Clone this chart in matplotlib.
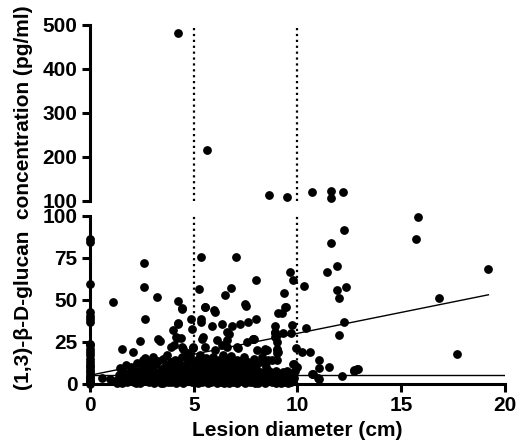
import matplotlib.pyplot as plt
import numpy as np

plt.rcParams['font.family'] = ['Liberation Sans', 'DejaVu Sans']
plt.rcParams['font.weight'] = 'bold'
plt.rcParams['font.size'] = 15

# points on the y axis (diameter 0)
x_zero = [0] * 25
y_zero = [86.2, 84.2, 59.6, 42.8, 40.5, 38.5, 36.9, 24, 23, 21, 19, 17, 15, 13,
          11.5, 10, 8.5, 7, 5.5, 4, 3, 2, 1, 0.5, 0]

# scattered points above the dense cluster
x_mid = [2.62, 2.6, 1.12, 3.23, 2.63, 4.22, 4.43, 5.33, 5.25, 5.56, 5.96, 6.02,
         7.02, 6.81, 6.5, 7.52, 7.47, 8.0, 4.22, 4.0, 4.9, 5.35, 4.87, 5.36, 5.9,
         6.35, 6.83, 7.23, 7.6, 8.0, 6.7, 6.62, 3.28, 3.39, 2.4, 1.54, 2.05, 3.9,
         4.03, 4.39, 4.14, 4.98, 5.43, 5.53, 6.14, 7.07, 7.55, 7.9, 4.42, 5.54,
         4.26, 6.59, 4.42, 4.18, 5.38, 7.84, 4.98, 6.35, 6.59, 4.5, 4.74, 6.02,
         8.03, 8.43, 7.15, 3.73, 2.65, 3.05, 2.0]
y_mid = [72, 57.8, 49, 51.9, 38.7, 49.3, 44.8, 75.7, 56.6, 46, 44, 43,
         75.7, 56.8, 53, 46.6, 47.3, 62, 36, 32.3, 32.7, 37, 38.5, 38.6, 34.5,
         35.9, 34.3, 35.9, 36.7, 38.9, 30, 26.4, 26.8, 25.8, 25.4, 21, 19.1, 21.9,
         23, 27.4, 28, 22, 28.2, 21.9, 26.2, 22, 25, 26.8, 45, 45.7,
         35.9, 31, 22, 27.4, 27, 27, 21.5, 23, 21.7, 21, 18.7, 20,
         20, 21, 21.5, 17.2, 15.2, 16.2, 10.3]

# right-hand points (diameter 8 cm and above)
x_right = [15.82, 15.7, 12.22, 11.6, 11.92, 11.42, 9.62, 9.8, 10.33, 11.92, 12.32,
           12.02, 19.2, 16.82, 17.7, 9.33, 9.45, 9.24, 12.22, 12.0, 10.4, 9.72,
           9.7, 8.92, 8.92, 8.98, 9.3, 7.84, 9.93, 10.22, 10.6, 9.03, 9.0, 8.4,
           8.48, 8.75, 9.0, 9.81, 11.02, 11.02, 11.52, 11.04, 10.71, 12.13, 12.72,
           12.92, 9.07, 9.4, 8.92, 9.0, 8.92, 8.51, 9.0, 9.07, 8.6, 8.43, 10.77]
y_right = [99.4, 86.4, 91.3, 84, 70.2, 66.7, 66.5, 61.7, 58.2, 56, 57.4,
           50.9, 68.5, 50.9, 17.9, 53.8, 46, 42.2, 36.9, 29.4, 33.3, 34.9,
           30.2, 34.3, 30.2, 27.8, 30.4, 26.6, 21.5, 18.9, 19.3, 20.1, 18.3, 19.9,
           13, 14, 14.2, 12, 14, 9.5, 9.9, 3.1, 5.7, 4.5, 8.1,
           8.9, 42.4, 45.7, 31, 25, 28, 20.1, 21, 19.1, 14.2, 12.2, 5.7]

# dense cluster close to the x axis
x_low = [0.6, 0.95, 1.2, 1.4, 1.45, 1.5, 1.6, 1.7, 1.8, 1.9, 2.0, 1.55, 1.75, 1.3,
         2.1, 2.15, 2.2, 2.25, 2.3, 2.35, 2.4, 2.45, 2.5, 2.55, 2.6, 2.7, 2.75,
         2.8, 2.85, 2.9, 2.95, 3.0, 2.2, 2.5, 2.7, 2.8,
         3.05, 3.1, 3.1, 3.15, 3.2, 3.25, 3.3, 3.35, 3.4, 3.45, 3.5, 3.5, 3.55,
         3.6, 3.65, 3.7, 3.75, 3.8, 3.85, 3.9, 3.9, 3.95, 3.3, 3.6, 3.4,
         4.0, 4.05, 4.1, 4.1, 4.15, 4.2, 4.25, 4.3, 4.35, 4.4, 4.45, 4.5, 4.5,
         4.55, 4.6, 4.65, 4.7, 4.75, 4.8, 4.85, 4.9, 4.9, 4.95, 4.95, 4.2, 4.6, 4.8,
         5.0, 5.05, 5.1, 5.1, 5.15, 5.2, 5.2, 5.25, 5.3, 5.3, 5.35, 5.4, 5.4, 5.45,
         5.5, 5.5, 5.55, 5.6, 5.6, 5.65, 5.7, 5.7, 5.75, 5.8, 5.8, 5.85, 5.9, 5.9,
         5.95, 5.95, 5.1, 5.5, 5.25,
         6.0, 6.0, 6.05, 6.1, 6.1, 6.15, 6.2, 6.2, 6.25, 6.3, 6.3, 6.35, 6.4, 6.4,
         6.45, 6.5, 6.5, 6.55, 6.6, 6.6, 6.65, 6.7, 6.7, 6.75, 6.8, 6.85, 6.9, 6.9,
         6.95, 6.95, 6.2, 6.45, 6.8,
         7.0, 7.0, 7.05, 7.1, 7.1, 7.15, 7.2, 7.25, 7.3, 7.3, 7.35, 7.4, 7.4, 7.45,
         7.5, 7.5, 7.55, 7.6, 7.6, 7.65, 7.7, 7.7, 7.75, 7.8, 7.8, 7.85, 7.9, 7.9,
         7.95, 7.95, 7.2, 7.6,
         8.0, 8.0, 8.05, 8.1, 8.1, 8.15, 8.2, 8.25, 8.3, 8.3, 8.35, 8.4, 8.45, 8.5,
         8.5, 8.55, 8.6, 8.6, 8.65, 8.7, 8.75, 8.8, 8.85, 8.9, 8.95, 8.95,
         9.07, 9.1, 9.15, 9.2, 9.25, 9.3, 9.35, 9.4, 9.45, 9.5, 9.55, 9.6, 9.65,
         9.7, 9.75, 9.8, 9.8, 9.85, 9.88, 9.96, 9.5, 9.3, 12.7, 12.85, 11.0]
y_low = [3.7, 3.0, 1.5, 5.5, 9.3, 2.2, 7.0, 4.0, 1.0, 6.5, 3.0, 0.8, 11.5, 0.5,
         1.2, 5.0, 8.0, 12.5, 2.5, 6.8, 0.6, 4.2, 9.5, 14.0, 1.8, 7.5, 3.5,
         11.0, 0.9, 5.8, 13.2, 2.0, 0.3, 3.0, 10.0, 6.2,
         8.5, 4.5, 0.7, 11.8, 2.8, 6.0, 13.5, 1.5, 9.0, 4.0, 15.0, 0.5, 7.2,
         2.2, 11.0, 5.2, 0.9, 8.8, 3.2, 13.0, 1.2, 6.5, 3.5, 9.8, 0.3,
         2.5, 10.5, 5.0, 14.5, 0.8, 7.8, 3.8, 12.0, 1.5, 9.2, 16.0, 4.5, 0.4,
         6.8, 11.5, 2.0, 14.0, 8.0, 3.0, 5.8, 10.0, 0.9, 13.0, 2.5, 1.0, 7.0, 16.5,
         6.0, 1.2, 9.5, 3.5, 14.0, 0.6, 7.5, 11.8, 2.5, 17.0, 5.2, 9.0, 0.9, 13.0,
         3.8, 7.0, 1.5, 11.0, 15.5, 4.5, 0.4, 8.5, 2.8, 12.5, 6.0, 1.0, 9.8, 3.5,
         16.0, 5.0, 12.5, 10.2, 4.0,
         2.0, 7.5, 12.0, 0.5, 4.8, 9.5, 14.5, 2.8, 6.5, 1.2, 11.0, 3.8, 8.0, 17.0,
         0.8, 5.5, 13.0, 2.2, 9.0, 15.0, 4.2, 0.5, 7.0, 11.5, 2.8, 6.0, 1.0, 13.5,
         8.5, 4.0, 10.0, 3.0, 16.5,
         2.5, 10.0, 6.0, 0.8, 14.0, 4.0, 8.2, 1.5, 12.0, 5.5, 2.8, 16.0, 7.5, 0.5,
         10.5, 3.5, 6.0, 1.5, 13.0, 4.8, 8.5, 0.9, 2.5, 11.0, 5.5, 1.2, 7.0, 15.0,
         3.0, 0.5, 3.0, 9.5,
         2.0, 9.0, 5.0, 0.6, 12.5, 3.5, 7.0, 1.5, 4.5, 16.0, 2.5, 6.0, 0.8, 3.0,
         10.0, 1.5, 5.9, 2.0, 8.0, 3.5, 0.9, 1.8, 5.0, 2.5, 7.5, 0.5,
         5.9, 1.5, 3.0, 0.6, 4.5, 2.0, 1.0, 3.5, 5.0, 1.8, 0.5, 2.8, 4.0,
         1.2, 6.5, 2.5, 11.6, 3.5, 7.7, 10.3, 8.0, 7.0, 7.7, 8.7, 3.7]

# points in the upper panel
x_high = [4.25, 5.64, 8.63, 9.5, 10.7, 11.6, 11.6, 12.2]
y_high = [481, 217, 113, 109, 120, 123, 106, 120]

fit_x = [0, 19.2]
fit_y = [5.2, 53.0]
cutoff_y = 5.5
size_lines = [5, 10]

x_all = np.array(x_zero + x_mid + x_right + x_low + x_high)
y_all = np.array(y_zero + y_mid + y_right + y_low + y_high)

fig = plt.figure(figsize=(5.18, 4.43), dpi=100)
ax_top = fig.add_axes([0.1737, 0.5463, 0.8012, 0.3973])
ax_bot = fig.add_axes([0.1737, 0.1332, 0.8012, 0.3799])

for ax in (ax_top, ax_bot):
    for s in ['top', 'right']:
        ax.spines[s].set_visible(False)
    ax.spines['left'].set_linewidth(2.2)
    ax.spines['bottom'].set_linewidth(2.2)
    ax.tick_params(width=2.2, length=6, labelsize=15, pad=3)
    ax.set_xlim(0, 20)
    for xv in size_lines:
        ax.axvline(xv, color='black', linestyle=':', linewidth=1.6, zorder=1)

# upper panel
m = y_all > 100
ax_top.scatter(x_all[m], y_all[m], s=28, color='black', clip_on=False, zorder=3)
ax_top.set_ylim(100, 500)
ax_top.set_yticks([100, 200, 300, 400, 500])
ax_top.spines['bottom'].set_visible(False)
ax_top.tick_params(axis='x', bottom=False, labelbottom=False)

# lower panel
m = y_all <= 100
ax_bot.scatter(x_all[m], y_all[m], s=28, color='black', clip_on=False, zorder=3)
ax_bot.plot(fit_x, fit_y, color='black', linewidth=1.0, zorder=4)
ax_bot.axhline(cutoff_y, color='black', linewidth=1.0, zorder=4)
ax_bot.set_ylim(0, 100)
ax_bot.set_yticks([0, 25, 50, 75, 100])
ax_bot.set_xticks([0, 5, 10, 15, 20])
ax_bot.set_xlabel('Lesion diameter (cm)', fontsize=15, fontweight='bold', labelpad=4)

fig.text(0.046, 0.553, '(1,3)-β-D-glucan  concentration (pg/ml)', rotation=90,
         ha='center', va='center', fontsize=15, fontweight='bold')

fig.savefig('out.png', dpi=100)
